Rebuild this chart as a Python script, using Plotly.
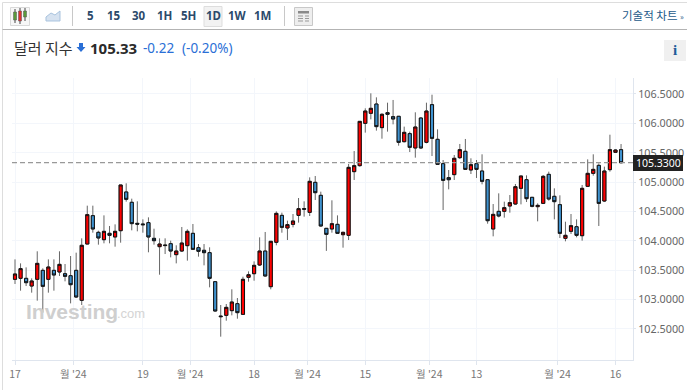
import plotly.graph_objects as go

opens = [103.345,103.362,103.362,103.231,103.345,103.498,103.345,103.498,103.470,103.441,
103.407,103.498,102.987,103.946,104.429,104.145,104.020,104.128,104.066,104.173,
104.832,104.656,104.298,104.287,104.310,104.043,103.901,103.930,103.952,103.765,
103.827,103.918,104.128,103.884,103.839,103.799,103.305,102.720,102.732,102.812,
102.931,102.749,103.379,103.441,103.589,103.827,103.220,103.975,104.434,104.219,
104.281,104.434,104.548,104.485,104.996,104.775,104.213,104.202,104.281,104.105,
104.094,105.178,105.280,106.000,106.171,106.329,105.927,106.182,106.114,106.120,
105.688,105.825,105.581,106.091,105.677,106.318,105.728,105.314,105.076,105.127,
105.416,105.524,105.206,105.314,105.189,105.041,104.202,104.502,104.502,104.593,
104.627,104.894,105.041,104.741,104.582,104.638,105.132,104.758,104.616,104.043,
104.162,104.241,104.088,104.928,105.149,105.285,104.678,105.212,105.507,105.552]
highs = [103.685,103.617,103.549,103.362,103.822,103.532,103.685,103.685,103.822,103.606,
103.742,103.799,104.043,104.599,104.599,104.173,104.434,104.253,104.281,104.951,
104.979,104.718,104.673,104.366,104.400,104.207,104.043,104.043,104.003,103.924,
104.236,104.196,104.287,103.946,103.946,103.890,103.305,102.908,102.925,103.175,
103.027,103.390,103.481,103.651,104.060,104.151,103.992,104.502,104.480,104.344,
104.457,104.729,104.673,105.081,105.104,104.837,104.213,104.690,104.434,104.156,
105.308,105.529,106.034,106.256,106.511,106.443,106.171,106.352,106.398,106.125,
105.944,105.859,106.188,106.103,106.352,106.488,105.898,105.376,105.206,105.461,
105.649,105.734,105.405,105.376,105.473,105.041,104.627,104.809,104.667,104.780,
104.968,105.104,105.115,104.741,104.638,105.121,105.178,104.894,104.775,104.326,
104.457,104.366,104.951,105.387,105.473,105.319,105.263,105.807,105.558,105.648]
lows = [103.266,103.152,103.231,103.118,102.982,102.778,103.118,103.152,103.402,103.311,
102.936,103.027,102.908,103.946,104.139,103.935,103.958,103.958,103.901,103.969,
104.667,104.179,104.162,104.139,103.805,103.935,103.424,103.776,103.719,103.617,
103.810,103.663,103.844,103.731,103.583,103.209,102.795,102.369,102.641,102.732,
102.675,102.749,103.305,103.322,103.572,103.390,103.175,103.924,104.139,104.014,
104.230,104.310,104.412,104.423,104.695,104.241,103.829,104.139,104.117,103.884,
104.014,105.036,105.263,105.842,106.068,105.876,105.739,105.859,105.983,105.620,
105.677,105.512,105.416,105.563,105.660,105.444,105.291,104.525,104.877,105.036,
105.393,105.206,105.138,105.070,104.962,104.292,104.077,104.400,104.395,104.480,
104.616,104.621,104.661,104.570,104.332,104.627,104.684,104.366,104.048,103.992,
104.117,104.060,104.003,104.922,105.109,104.253,104.661,105.178,105.507,105.319]
closes = [103.436,103.527,103.288,103.317,103.617,103.226,103.555,103.419,103.600,103.396,
103.254,103.044,103.924,104.446,104.202,104.049,104.162,104.094,104.162,104.951,
104.707,104.293,104.285,104.275,104.066,104.003,103.946,103.920,103.827,103.827,
103.963,104.162,103.856,103.822,103.799,103.362,102.806,102.710,102.868,102.959,
102.778,103.345,103.424,103.583,103.827,103.402,103.992,104.468,104.230,104.276,
104.338,104.548,104.540,105.013,104.820,104.253,104.111,104.292,104.128,104.145,
105.251,105.280,106.034,106.210,106.256,105.944,106.154,106.154,106.074,105.677,
105.847,105.592,105.938,105.581,106.210,105.745,105.302,105.030,105.041,105.405,
105.552,105.217,105.297,105.217,105.013,104.343,104.451,104.423,104.565,104.650,
104.922,105.104,104.718,104.587,104.604,105.098,104.712,104.667,104.128,104.094,
104.258,104.094,104.894,105.149,105.217,104.638,105.189,105.552,105.546,105.330]

last_price = 105.33
price_ticks = [102.5,103.0,103.5,104.0,104.5,105.0,105.5,106.0,106.5]
time_tick_pos = [0,10.5,23,31.5,43,52.6,63,74.5,83,97.6,108]
time_tick_text = ["17","월 '24","19","월 '24","18","월 '24","15","월 '24","13","월 '24","16"]
intervals = ["5","15","30","1H","5H","1D","1W","1M"]
interval_px = [90,114,139,164,188,213,237,262]

W,H = 687,390
L,R,T,B = 12,633,78,360
px = lambda x:(x-L)/(R-L)
py = lambda y:(B-y)/(B-T)
KR = "Noto Sans CJK KR"
SANS = "Noto Sans"

shapes=[]
def rect(x0,y0,x1,y1,fill=None,line=None,lw=1,layer="above"):
    shapes.append(dict(type="rect",xref="paper",yref="paper",x0=px(x0),x1=px(x1),y0=py(y0),y1=py(y1),
        fillcolor=fill or "rgba(0,0,0,0)",line=dict(color=line or "rgba(0,0,0,0)",width=lw if line else 0),layer=layer))
def seg(x0,y0,x1,y1,color,lw=1,dash=None):
    shapes.append(dict(type="line",xref="paper",yref="paper",x0=px(x0),x1=px(x1),y0=py(y0),y1=py(y1),
        line=dict(color=color,width=lw,dash=dash or "solid"),layer="above"))

seg(2.5,2.5,687,2.5,"#dddddd",1)
seg(2.5,2.5,2.5,390,"#dddddd",1)
seg(2.5,29.5,687,29.5,"#b3b3b3",1)
seg(72.5,6,72.5,26,"#c8c8c8",1)
seg(284.5,6,284.5,26,"#c8c8c8",1)
rect(10.5,7.5,29.5,25.5,"#f7f7f7","#d9d9d9")
for x,t,b,c,wt,wb in [(15,12,20,"#5a9a3a",9,23),(20,11,21,"#e03030",8,24),(25,11,17,"#5a9a3a",8,21)]:
    seg(x,wt,x,wb,"#444444",1)
    rect(x-1.5,t,x+1.5,b,c,"#555555",0.5)
shapes.append(dict(type="path",xref="paper",yref="paper",layer="above",
    path="M %f,%f L %f,%f L %f,%f L %f,%f L %f,%f L %f,%f Z"%(px(46),py(21),px(46),py(17),px(51),py(13),px(55),py(15),px(60),py(11),px(60),py(21)),
    fillcolor="#d6e2f0",line=dict(color="#a9c3de",width=1)))
rect(204,6.5,222,26.5,"#f2f2f2","#dddddd")
rect(294.5,7.5,312.5,25.5,"#eeeeee","#c8c8c8",1)
rect(298,11,309,13.5,"#8a8a8a")
for y in (16,18.5,21):
    seg(298,y,303,y,"#999999",1)
    seg(305,y,309,y,"#999999",1)
rect(664,40,686,61,"#f0f0f0")
shapes.append(dict(type="path",xref="paper",yref="paper",layer="above",
    path="M %f,%f L %f,%f L %f,%f L %f,%f L %f,%f L %f,%f L %f,%f Z"%(px(79),py(43),px(83),py(43),px(83),py(47),px(85.5),py(47),px(81),py(52),px(76.5),py(47),px(79),py(47)),
    fillcolor="#2a6fd6",line=dict(width=0)))
shapes.append(dict(type="line",xref="paper",yref="y",x0=0,x1=1,y0=last_price,y1=last_price,
    line=dict(color="#999999",width=1.2,dash="5px,3px"),layer="above"))
rect(633,155,683,171,"#222222")

ann=[]
def text(x,y,s,size,color,font=SANS,anchor="left",**kw):
    ann.append(dict(xref="paper",yref="paper",x=px(x),y=py(y),text=s,showarrow=False,xanchor=anchor,yanchor="middle",
        borderpad=0,font=dict(size=size,color=color,family=font),**kw))
for s,x in zip(intervals,interval_px):
    text(x,15,"<b>%s</b>"%s,11.5,"#2c4a6b",anchor="center")
text(685,15,"기술적 차트 <span style='font-size:8px'>»</span>",11.5,"#1c5a8a",KR,anchor="right")
text(13,47,"달러 지수",15,"#333333",KR)
text(89,48,"<b>105.33</b>",15,"#2a2a2a")
text(142,48,"-0.22",13.5,"#2a6fd6")
text(181,48,"(-0.20%)",13.5,"#2a6fd6")
text(675,50,"<b>i</b>",15,"#1f5c99","Liberation Serif",anchor="center")
text(658,163,"105.3300",10.5,"#ffffff",anchor="center")
text(25,311,"<b>Investing</b>",21,"#cfcfcf","Liberation Sans")
text(116,313,".com",13,"#d4d4d4","Liberation Sans")

idx = list(range(len(opens)))
body_low = [min(o,c) for o,c in zip(opens,closes)]
body_high = [max(o,c) for o,c in zip(opens,closes)]
fig=go.Figure()
# wicks in grey underneath, bodies with a black outline on top
fig.add_trace(go.Candlestick(x=idx,open=opens,high=highs,low=lows,close=closes,
    increasing=dict(fillcolor="#ff0000",line=dict(color="#666666",width=1)),
    decreasing=dict(fillcolor="#3f92cf",line=dict(color="#666666",width=1)),
    whiskerwidth=0,showlegend=False))
fig.add_trace(go.Candlestick(x=idx,open=opens,high=body_high,low=body_low,close=closes,
    increasing=dict(fillcolor="#ff0000",line=dict(color="#111111",width=1)),
    decreasing=dict(fillcolor="#3f92cf",line=dict(color="#111111",width=1)),
    whiskerwidth=0,showlegend=False))
fig.update_layout(width=W,height=H,margin=dict(l=L,r=W-R,t=T,b=H-B,pad=0),autosize=False,boxmode="overlay",boxgap=0.2,
    paper_bgcolor="white",plot_bgcolor="white",shapes=shapes,annotations=ann,showlegend=False,
    font=dict(family=SANS,size=11,color="#666666"),
    xaxis=dict(automargin=False,range=[-0.54,111.15],rangeslider=dict(visible=False),tickmode="array",tickvals=time_tick_pos,
        ticktext=time_tick_text,showgrid=True,gridcolor="#f3f6fb",gridwidth=1,zeroline=False,
        showline=True,linecolor="#dfe5ee",ticks="outside",ticklen=4,tickcolor="#dfe5ee",
        tickfont=dict(family=KR,size=10.5,color="#777777")),
    yaxis=dict(automargin=False,range=[101.972,106.772],side="right",tickmode="array",tickvals=price_ticks,
        tickformat=".4f",showgrid=True,gridcolor="#f3f6fb",gridwidth=1,zeroline=False,
        showline=True,linecolor="#dfe5ee",ticks="outside",ticklen=2,tickcolor="#dfe5ee",
        tickfont=dict(size=10.8,color="#666666")))
fig.write_html("out.html",config=dict(displayModeBar=False),
    post_script="document.body.style.margin='0';document.documentElement.style.overflow='hidden';")
